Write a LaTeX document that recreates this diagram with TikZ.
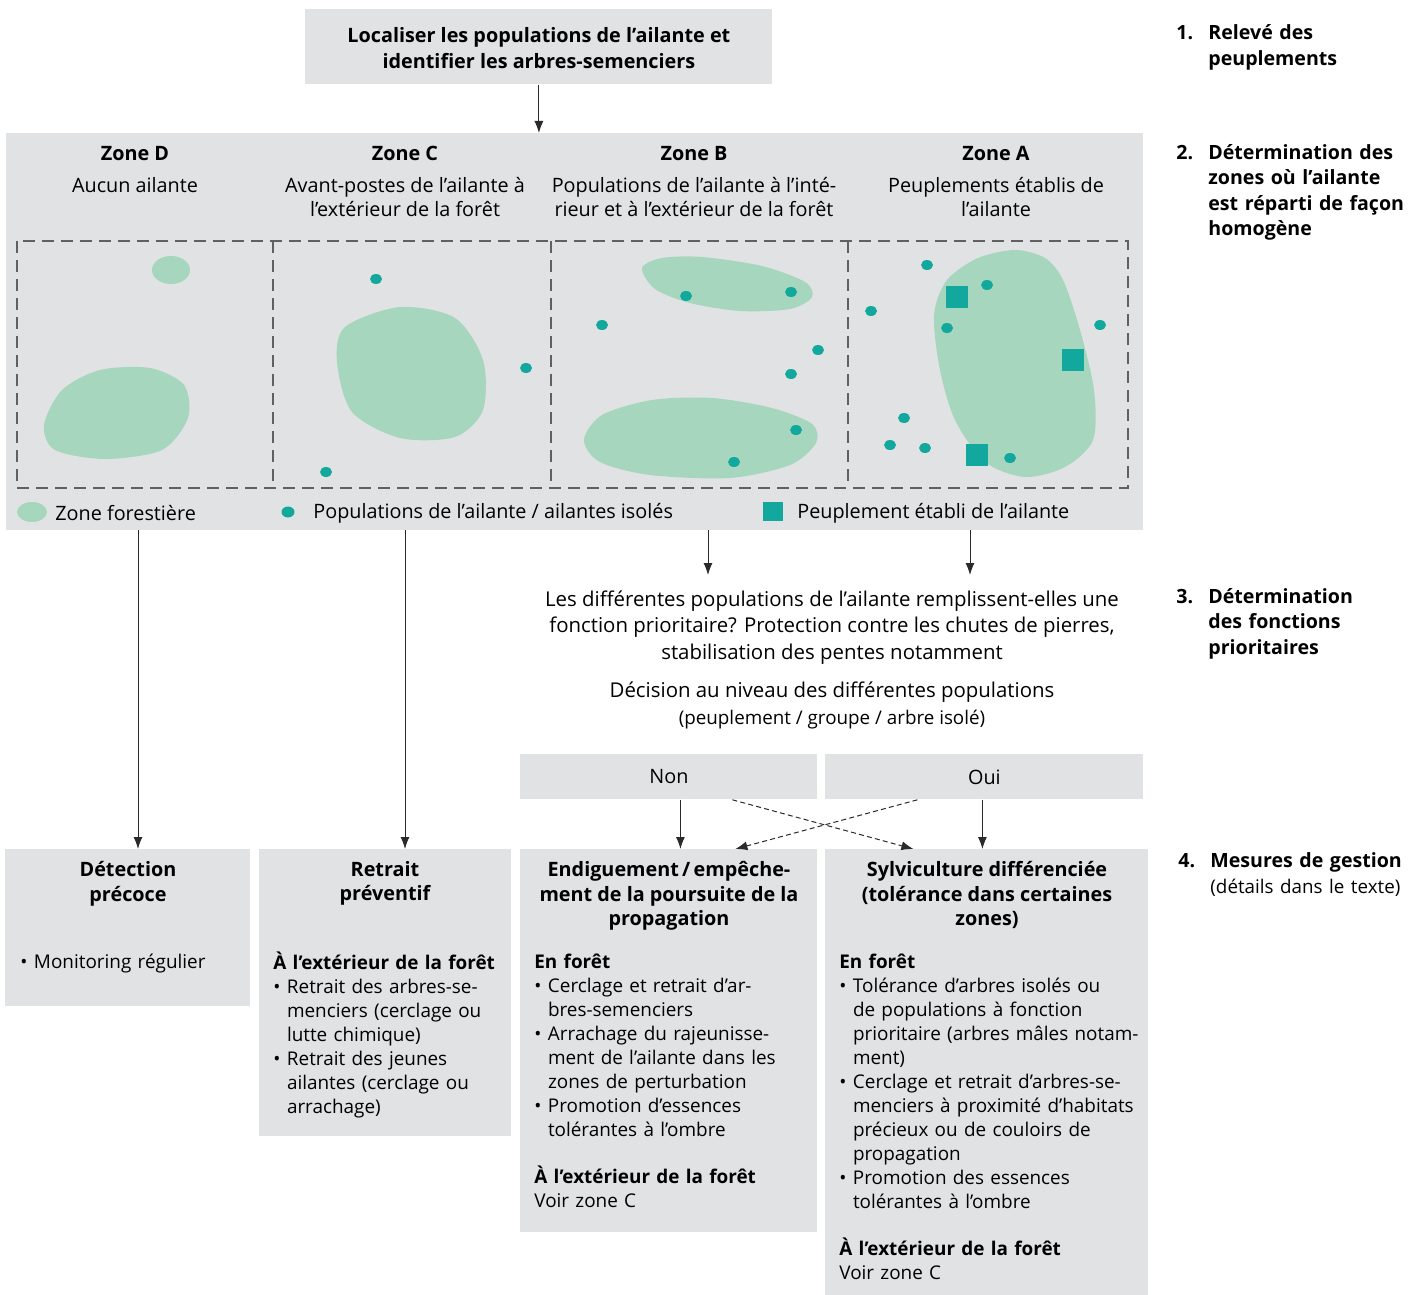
\documentclass[tikz,border=0pt]{standalone}
\usepackage{fontspec}
\setmainfont{Open Sans}
\usetikzlibrary{arrows.meta,positioning}

\definecolor{boxgray}{HTML}{E1E2E4}
\definecolor{foret}{HTML}{A6D6BE}
\definecolor{ailante}{HTML}{13A89E}
\definecolor{trait}{HTML}{2A2A2A}

\newcommand\txtsize{\fontsize{9.9}{12}\selectfont}
\newcommand\corpssize{\fontsize{9.45}{12}\selectfont}
\newcommand\itm[1]{\noindent\hangindent=6.8pt\hangafter=1\strut\makebox[6.8pt][l]{\textbullet}#1\par}
\newcommand\numero[1]{\makebox[16pt][l]{#1}}

\tikzset{
  box/.style={fill=boxgray, anchor=north west, inner sep=0pt, font=\txtsize},
  titre/.style={inner sep=0pt, align=center, font=\fontsize{9.9}{12.25}\selectfont\bfseries},
  texte/.style={inner sep=0pt, align=center, font=\txtsize},
  corps/.style={inner sep=0pt, anchor=north west, align=left, font=\corpssize},
  etape/.style={inner sep=0pt, anchor=north west, align=left, text width=118pt,
    font=\fontsize{9.8}{12.7}\selectfont\bfseries},
  arr/.style={draw=trait, line width=0.5pt, -{Latex[length=6pt,width=4.5pt]}},
  darr/.style={arr, dash pattern=on 2.5pt off 1.6pt},
  zone/.style={draw=gray!75!black, line width=0.6pt, dash pattern=on 6pt off 3.5pt},
}

\begin{document}
\begin{tikzpicture}[x=0.5pt,y=-0.5pt]
\useasboundingbox (0,0) rectangle (1419,1295);

% 1. relevé
\node[box, minimum width=233.5pt, minimum height=37.5pt] (releve) at (305,9) {};
\node[titre, font=\fontsize{9.9}{13}\selectfont\bfseries] (releveT) at ([yshift=-0.5pt]releve.center) {Localiser les populations de l’ailante et\\identifier les arbres-semenciers};

% 2. zones
\node[box, minimum width=568.5pt, minimum height=198.5pt] (panel) at (6,133) {};
\draw[arr] (releve.south) -- (releve.south |- panel.north);

\foreach \nom/\cx/\desc in {D/135/{Aucun ailante},
    C/405/{Avant-postes de l’ailante à\\l’extérieur de la forêt},
    B/694/{Populations de l’ailante à l’inté-\\rieur et à l’extérieur de la forêt},
    A/996/{Peuplements établis de\\l’ailante}} {
  \node[titre, anchor=north] (zone\nom) at (\cx,146) {Zone \nom};
  \node[texte, anchor=north] (desc\nom) at (\cx,177) {\desc};
}

% cadre pointillé
\draw[zone] (17,241) rectangle (1128,488);
\foreach \x in {273,551,848} \draw[zone] (\x,241) -- (\x,488);

% zones forestières
\fill[foret] (171,270) ellipse (19 and 14);
\fill[foret] plot[smooth cycle] coordinates {(44,425) (62,390) (100,370) (150,368) (184,385) (188,418) (162,450) (105,459) (55,450)};
\fill[foret] plot[smooth cycle] coordinates {(345,327) (400,307) (455,318) (483,360) (483,410) (455,437) (400,438) (352,412) (337,362)};
\fill[foret] plot[smooth cycle] coordinates {(642,268) (662,258) (702,257) (762,266) (805,282) (812,297) (790,309) (740,311) (690,303) (655,289)};
\fill[foret] plot[smooth cycle] coordinates {(584,440) (602,415) (652,400) (712,398) (772,408) (812,424) (816,443) (790,465) (730,478) (650,475) (600,462)};
\fill[foret] plot[smooth cycle] coordinates {(1015,250) (1045,258) (1063,280) (1080,330) (1094,390) (1093,440) (1065,467) (1025,477) (985,462) (955,420) (940,370) (934,315) (947,280) (978,258)};

% ailantes isolés
\foreach \x/\y in {376/279, 526/368, 326/472,
    686/296, 791/292, 602/325, 818/350, 791/374, 796/430, 734/462,
    927/265, 987/285, 871/311, 947/328, 1100/325, 904/418, 890/445, 925/448, 1010/458}
  \fill[ailante] (\x,\y) ellipse (6 and 5);

% peuplements établis
\foreach \x/\y in {957/297, 1073/360, 977/455}
  \fill[ailante] (\x-11,\y-11) rectangle (\x+11,\y+11);

% légende
\fill[foret] (32,512) ellipse (15 and 10);
\node[texte, anchor=west] (legForet) at (55,513) {Zone forestière};
\fill[ailante] (288,512) ellipse (6.5 and 5.5);
\node[texte, anchor=west] (legPop) at (313,513) {Populations de l’ailante / ailantes isolés};
\fill[ailante] (763,502) rectangle (783,521);
\node[texte, anchor=west] (legPeup) at (797,513) {Peuplement établi de l’ailante};

% 3. fonctions prioritaires
\node[texte, anchor=north, font=\fontsize{10.2}{13.25}\selectfont] (question) at (832,590)
  {Les différentes populations de l’ailante remplissent-elles une\\fonction prioritaire? Protection contre les chutes de pierres,\\stabilisation des pentes notamment};
\node[texte, anchor=north, font=\fontsize{10.2}{13}\selectfont] (decision) at (832,681) {Décision au niveau des différentes populations};
\node[texte, anchor=north, font=\fontsize{9.4}{11}\selectfont] (niveau) at (832,710) {(peuplement / groupe / arbre isolé)};

\coordinate (pB) at (708,530);
\coordinate (pA) at (970,530);
\draw[arr, shorten >=7.5pt] (pB) -- (pB |- question.north);
\draw[arr, shorten >=7.5pt] (pA) -- (pA |- question.north);

\node[box, minimum width=148.5pt, minimum height=22.5pt] (non) at (520,754) {Non};
\node[box, minimum width=159pt, minimum height=22.5pt] (oui) at (825,754) {Oui};

% 4. mesures
\node[box, minimum width=122.5pt, minimum height=78.5pt] (detect) at (5,849) {};
\node[box, minimum width=126pt, minimum height=143.5pt] (retrait) at (259,849) {};
\node[box, minimum width=148.5pt, minimum height=191.5pt] (endig) at (520,849) {};
\node[box, minimum width=161.5pt, minimum height=223pt] (sylvi) at (825,849) {};

\coordinate (pD) at (138,530);
\coordinate (pC) at (405,530);
\draw[arr] (pD) -- (pD |- detect.north);
\draw[arr] (pC) -- (pC |- retrait.north);
\draw[arr] ([xshift=5.75pt]non.south) -- ([xshift=5.75pt]non.south |- endig.north);
\draw[arr] ([xshift=-1pt]oui.south) -- ([xshift=-1pt]oui.south |- sylvi.north);
\draw[darr] ([xshift=31.75pt]non.south) -- ([xshift=-36.75pt]sylvi.north);
\draw[darr] ([xshift=-33.5pt]oui.south) -- ([xshift=33.25pt]endig.north);

\node[titre, anchor=north] (detectT) at (128,861) {Détection\\précoce};
\node[corps, text width=112pt] (detectC) at (20,951) {\itm{Monitoring régulier}};

\node[titre, anchor=north] (retraitT) at (385,861) {Retrait\\préventif};
\node[corps, text width=118pt] (retraitC) at (273,951) {\strut{\bfseries À l’extérieur de la forêt}\par
  \itm{Retrait des arbres-se-\newline menciers (cerclage ou\newline lutte chimique)}
  \itm{Retrait des jeunes\newline ailantes (cerclage ou\newline arrachage)}};

\node[titre, anchor=north] (endigT) at (669,861) {Endiguement\,/\,empêche-\\ment de la poursuite de la\\propagation};
\node[corps, text width=140pt] (endigC) at (534,951) {\strut{\bfseries En forêt}\par
  \itm{Cerclage et retrait d’ar-\newline bres-semenciers}
  \itm{Arrachage du rajeunisse-\newline ment de l’ailante dans les\newline zones de perturbation}
  \itm{Promotion d’essences\newline tolérantes à l’ombre}\vspace{11.5pt}
  \noindent{\bfseries À l’extérieur de la forêt}\newline Voir zone C};

\node[titre, anchor=north] (sylviT) at (987,861) {Sylviculture différenciée\\(tolérance dans certaines\\zones)};
\node[corps, text width=152pt] (sylviC) at (839,951) {\strut{\bfseries En forêt}\par
  \itm{Tolérance d’arbres isolés ou\newline de populations à fonction\newline prioritaire (arbres mâles notam-\newline ment)}
  \itm{Cerclage et retrait d’arbres-se-\newline menciers à proximité d’habitats\newline précieux ou de couloirs de\newline propagation}
  \itm{Promotion des essences\newline tolérantes à l’ombre}\vspace{11.5pt}
  \noindent{\bfseries À l’extérieur de la forêt}\newline Voir zone C};

% étapes
\node[etape, font=\fontsize{9.8}{13}\selectfont\bfseries] (etape1) at (1176,24) {\hangindent=16pt\hangafter=1\numero{1.}Relevé des\newline peuplements\par};
\node[etape] (etape2) at (1176,144) {\hangindent=16pt\hangafter=1\numero{2.}Détermination des\newline zones où l’ailante\newline est réparti de façon\newline homogène\par};
\node[etape] (etape3) at (1176,588) {\hangindent=16pt\hangafter=1\numero{3.}Détermination\newline des fonctions\newline prioritaires\par};
\node[etape, font=\fontsize{9.8}{13}\selectfont\bfseries] (etape4) at (1178,852) {\hangindent=16pt\hangafter=1\numero{4.}Mesures de gestion\newline{\fontsize{9.4}{13}\selectfont\mdseries (détails dans le texte)}\par};

\end{tikzpicture}
\end{document}
